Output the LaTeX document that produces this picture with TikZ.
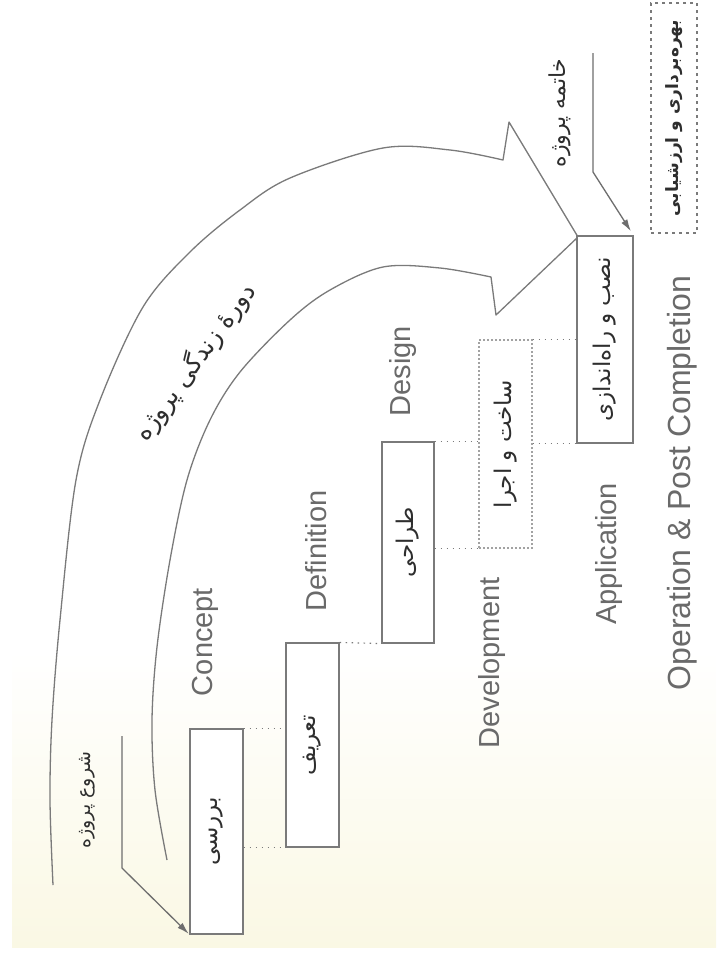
\documentclass[tikz,border=0pt]{standalone}
\usepackage{fontspec}
\setmainfont{Liberation Sans}
\newfontfamily\fa[Script=Arabic]{DejaVu Sans}
\TeXXeTstate=1
\usetikzlibrary{arrows.meta}
\definecolor{ln}{HTML}{7A7A7A}
\definecolor{en}{HTML}{6A6A6A}
\definecolor{fatxt}{HTML}{2E2E2E}
\newcommand{\fatext}[1]{{\fa\beginR #1\endR}}
\begin{document}
\begin{tikzpicture}[x=1pt,y=-1pt,
  box/.style={draw=ln, line width=1.1pt, inner sep=0pt, fill=white, text=fatxt, font=\fontsize{23}{26}\selectfont},
  faintbox/.style={box, draw=ln!70, dash pattern=on 2pt off 2pt},
  dashbox/.style={box, dash pattern=on 3pt off 4pt, font=\fontsize{17}{20}\selectfont\bfseries},
  dotline/.style={draw=ln, line width=1.2pt, dash pattern=on 1.5pt off 4.5pt},
  phase/.style={text=en, font=\fontsize{29}{32}\selectfont, rotate=90, inner sep=0pt},
  falabel/.style={text=fatxt, font=\fontsize{19}{22}\selectfont, inner sep=0pt},
  shapeline/.style={draw=ln, line width=1.3pt, line join=round},
  pointer/.style={draw=ln!90!black, line width=1.3pt, -{Latex[length=12pt,width=7pt]}}]
\useasboundingbox (0,0) rectangle (716,959);
\fill[white] (0,0) rectangle (716,959);
\shade[top color=white, bottom color={rgb,255:red,250;green,248;blue,228}] (12,650) rectangle (716,947);

% big lifecycle arrow
\draw[shapeline] plot[smooth, tension=0.55] coordinates {(53,885) (50,800) (52,720) (60,620) (76,480) (100,400) (143,307) (190,252) (240,210) (290,178) (383,148) (450,150) (503,160)}
  -- (509,122) -- (578,237) -- (496,315) -- (491,277)
  -- plot[smooth, tension=0.55] coordinates {(491,277) (440,268) (383,267) (330,290) (290,320) (240,372) (210,420) (187,480) (170,560) (157,647) (152,720) (155,790) (167,860)};

\node[falabel, rotate=54, font=\fontsize{25}{28}\selectfont] (life) at (195,362) {\fatext{دورهٔ زندگی پروژه}};

% phase boxes
\node[box, minimum width=53pt, minimum height=205pt] (b1) at (216.5,831.5) {\rotatebox{90}{\fatext{بررسی}}};
\node[box, minimum width=53pt, minimum height=204pt] (b2) at (312.5,745) {\rotatebox{90}{\fatext{تعریف}}};
\node[box, minimum width=52pt, minimum height=201pt] (b3) at (408,542.5) {\rotatebox{90}{\fatext{طراحی}}};
\node[faintbox, minimum width=53pt, minimum height=208pt] (b4) at (505.5,444) {\rotatebox{90}{\fatext{ساخت و اجرا}}};
\node[box, minimum width=56pt, minimum height=207pt] (b5) at (605,339.5) {\rotatebox{90}{\fatext{نصب و راه‌اندازی}}};
\node[dashbox, minimum width=46pt, minimum height=230pt] (b6) at (674,118) {\rotatebox{90}{\fatext{بهره‌برداری و ارزشیابی}}};

% dotted links between steps
\draw[dotline] (b1.north east) -- (b1.north east -| b2.west);
\draw[dotline] (b2.south west -| b1.east) -- (b2.south west);
\draw[dotline] (b2.north east) -- (b3.south west);
\draw[dotline] (b3.north east) -- (b3.north east -| b4.west);
\draw[dotline] (b4.south west -| b3.east) -- (b4.south west);
\draw[dotline] (b4.north east) -- (b4.north east -| b5.west);
\draw[dotline] (b5.south west -| b4.east) -- (b5.south west);

% phase names
\node[phase] (concept) at (205,642) {Concept};
\node[phase] (definition) at (316,551) {Definition};
\node[phase] (design) at (403,371) {Design};
\node[phase] (development) at (492,663) {Development};
\node[phase] (application) at (609,554) {Application};
\node[phase, font=\fontsize{32}{35}\selectfont] (operation) at (682,483) {Operation \& Post Completion};

% start and end pointers
\coordinate (s0) at (122,736);
\coordinate (s1) at (122,868);
\draw[pointer, shorten >=1pt] (s0) -- (s1) -- (b1.south west);
\node[falabel, rotate=90] (start) at (87,800) {\fatext{شروع پروژه}};

\coordinate (e0) at (593,53);
\coordinate (e1) at (593,172);
\draw[pointer, shorten >=5pt] (e0) -- (e1) -- (b5.north east);
\node[falabel, rotate=90, font=\fontsize{22}{25}\selectfont] (finish) at (560,113) {\fatext{خاتمه پروژه}};
\end{tikzpicture}
\end{document}
